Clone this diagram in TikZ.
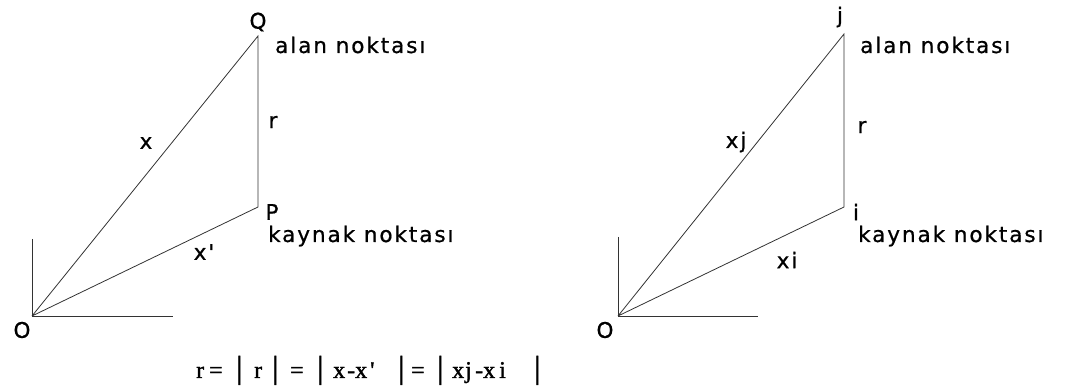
\documentclass[tikz,border=0pt]{standalone}
\usepackage{fontspec}
\setmainfont{DejaVu Sans}
\newfontfamily\lblfont[LetterSpace=9,FakeBold=0.8]{DejaVu Sans}
\newfontfamily\formfont[FakeBold=1.5]{Liberation Serif}
\newcommand{\putat}[2]{\makebox[0pt][l]{\hspace*{#1pt}#2}}
\newcommand{\bbar}{{\fontsize{32}{32}\selectfont|}}
\begin{document}
\begin{tikzpicture}[x=1pt,y=-1pt,
  ln/.style={draw=black!80, line width=0.8pt},
  lbl/.style={font=\lblfont\fontsize{21.5}{23}\selectfont, inner sep=0pt},
  lbll/.style={lbl, anchor=base west}]
\useasboundingbox (0,0) rectangle (1069,387);
% left figure
\coordinate (O1) at (32,316);
\coordinate (Q) at (258,36);
\coordinate (P) at (258,207);
\coordinate (Y1) at (32,239);
\coordinate (X1) at (173,316);
\draw[ln] (Y1) -- (O1) -- (X1);
\draw[ln] (O1) -- (Q) -- (P) -- (O1);
\node[lbl] (lQ) at (258,22) {Q};
\node[lbll] (aQ) at (275,53) {alan noktası};
\node[lbl] (rQ) at (273,122) {r};
\node[lbl] (xQ) at (146,143) {x};
\node[lbl] (xP) at (204,252) {x'};
\node[lbl] (lP) at (272,212) {P};
\node[lbll] (kP) at (268,242) {kaynak noktası};
\node[lbl] (lO1) at (22,330) {O};
% right figure
\coordinate (O2) at (618,316);
\coordinate (J) at (844,34);
\coordinate (I) at (844,207);
\coordinate (Y2) at (618,237);
\coordinate (X2) at (758,316);
\draw[ln] (Y2) -- (O2) -- (X2);
\draw[ln] (O2) -- (J) -- (I) -- (O2);
\node[lbl] (lJ) at (840,17) {j};
\node[lbll] (aJ) at (860,53) {alan noktası};
\node[lbl] (rJ) at (862,127) {r};
\node[lbl] (xJ) at (736,142) {xj};
\node[lbl] (xI) at (787,260) {xi};
\node[lbl] (lI) at (856,212) {i};
\node[lbll] (kI) at (858,242) {kaynak noktası};
\node[lbl] (lO2) at (605,330) {O};
% formula
\node[inner sep=0pt, anchor=base west, font=\formfont\fontsize{24}{26}\selectfont] (F) at (196,378)
  {\putat{0}{r}\putat{13}{=}\putat{40}{\bbar}\putat{58}{r}\putat{76}{\bbar}\putat{94}{=}\putat{121}{\bbar}%
   \putat{137}{x}\putat{151}{-}\putat{159}{x}\putat{174}{\textquotesingle}\putat{202}{\bbar}%
   \putat{215}{=}\putat{241}{\bbar}\putat{256}{x}\putat{269}{j}\putat{279}{-}\putat{287}{x}\putat{303}{i}%
   \putat{338}{\bbar}\hspace*{345pt}};
\end{tikzpicture}
\end{document}
